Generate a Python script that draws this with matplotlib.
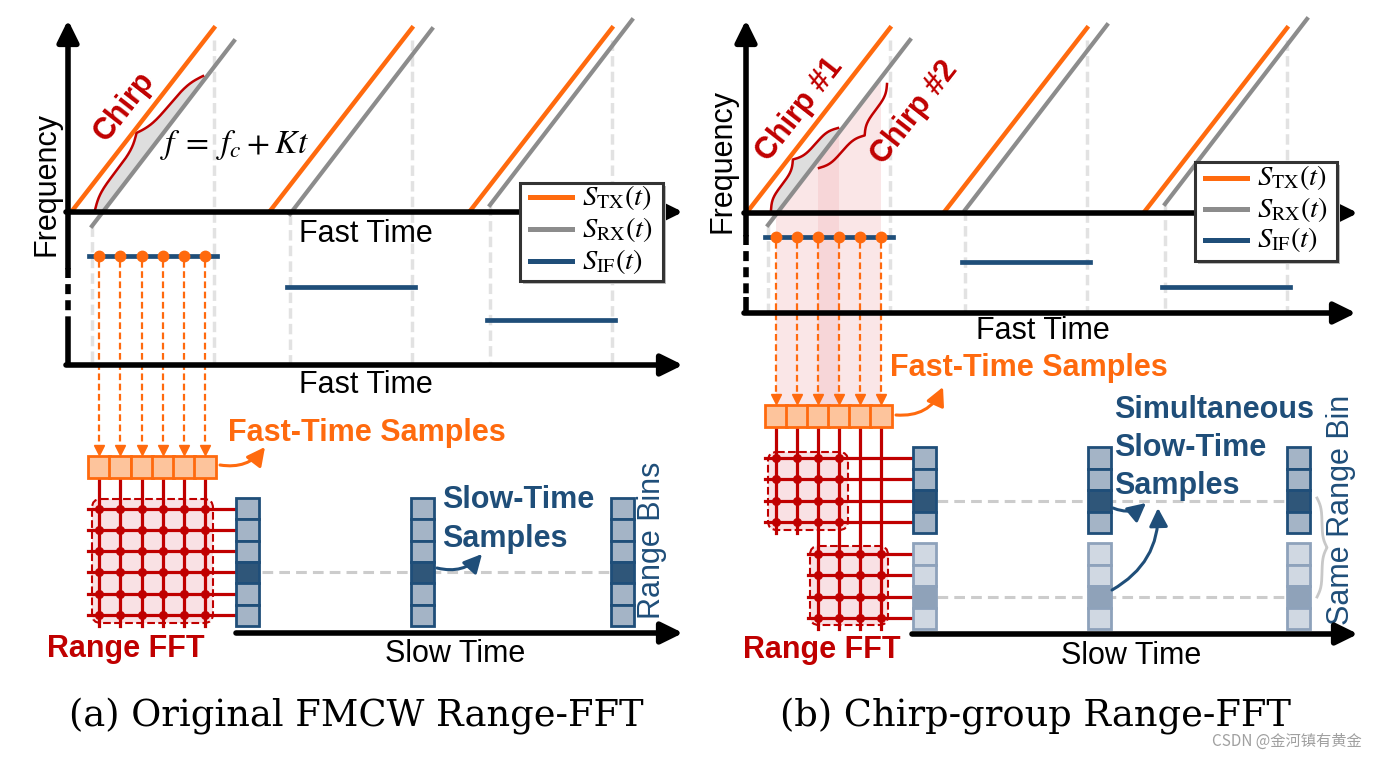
import matplotlib
matplotlib.use('Agg')

import numpy as np
import matplotlib.pyplot as plt
from matplotlib.patches import Rectangle, FancyBboxPatch, Polygon

plt.rcParams['mathtext.fontset'] = 'stix'
plt.rcParams['font.family'] = ['Liberation Sans', 'DejaVu Sans']

ORANGE = '#ff6a0e'
GRAY = '#8c8c8c'
BLUE = '#1f4e79'
RED = '#c00000'
GUIDE = '#e2e2e2'
PINK = '#f9e1e4'

# ---- panel (a): original FMCW range-FFT
a_tx_start = [72, 270, 470]
a_rx_start_y = [226, 214, 205]
a_if_level = [256, 287, 320]
a_samples = [99, 120, 142, 163, 184, 205]
a_fft_rows = [509, 530, 551, 572, 594, 615]
a_bin_x = [236, 411, 611]
a_bin_shade = ['#a4b4c6', '#a4b4c6', '#a4b4c6', '#2f5679', '#a4b4c6', '#a4b4c6']

# ---- panel (b): chirp-group range-FFT
b_tx_start = [748, 945, 1145]
b_rx_start_y = [225, 210, 204]
b_if_level = [237, 262, 287]
b_samples = [776, 797, 818, 839, 860, 881]
b_fft_rows_1 = [458, 479, 501, 522]
b_fft_rows_2 = [554, 575, 597, 618]
b_bin_x = [913, 1088, 1287]
b_bin_shade_1 = ['#a4b4c6', '#a4b4c6', '#2f5679', '#a4b4c6']
b_bin_shade_2 = ['#d0d8e2', '#d0d8e2', '#8fa2b9', '#d0d8e2']

legend_labels = [r'$S_{\mathrm{TX}}(t)$', r'$S_{\mathrm{RX}}(t)$', r'$S_{\mathrm{IF}}(t)$']
legend_colors = [ORANGE, GRAY, BLUE]

CHIRP_DX, CHIRP_DY = 142, 183
RX_LAG = 20


def axis_arrow(ax, x0, y0, x1, y1):
    ax.annotate('', xy=(x1, y1), xytext=(x0, y0), zorder=6,
                arrowprops=dict(arrowstyle='-|>,head_length=0.65,head_width=0.32',
                                lw=4, color='black', shrinkA=0, shrinkB=0,
                                mutation_scale=20))


def freq_axis(ax, x, top, gap0, gap1, bottom):
    axis_arrow(ax, x, gap0, x, top)
    ax.plot([x, x], [gap0, gap1], color='k', lw=4, dashes=(1.8, 1.1), zorder=6)
    ax.plot([x, x], [gap1, bottom], color='k', lw=4, solid_capstyle='butt', zorder=6)


def chirps(ax, starts, rx_y, if_level, axis_y, bottom_y):
    for x0, ry, iy in zip(starts, rx_y, if_level):
        ax.plot([x0, x0 + CHIRP_DX], [axis_y, axis_y - CHIRP_DY], color=ORANGE, lw=3.2, zorder=4)
        ax.plot([x0 + RX_LAG, x0 + RX_LAG + CHIRP_DX], [ry, ry - CHIRP_DY - 2],
                color=GRAY, lw=3.0, zorder=4)
        ax.plot([x0 + RX_LAG] * 2, [ry, bottom_y], color=GUIDE, lw=2.5, dashes=(3, 1.5), zorder=1)
        ax.plot([x0 + CHIRP_DX] * 2, [axis_y - CHIRP_DY + 12, bottom_y], color=GUIDE, lw=2.5,
                dashes=(3, 1.5), zorder=1)
        ax.plot([x0 + RX_LAG - 3, x0 + CHIRP_DX + 3], [iy, iy], color=BLUE, lw=3.4, zorder=4)


def brace(ax, p0, p1, width, color, side, lw=1.8, shade_to=None):
    p0, p1 = np.asarray(p0, float), np.asarray(p1, float)
    d = p1 - p0
    L = np.hypot(*d)
    u = d / L
    n = np.array([-u[1], u[0]]) * side
    xh = np.linspace(0, 0.5, 80)
    beta = 20.0
    yh = 1 / (1 + np.exp(-beta * (xh - xh[0]))) + 1 / (1 + np.exp(-beta * (xh - xh[-1])))
    xs = np.concatenate([xh, 1 - xh[-2::-1]])
    ys = np.concatenate([yh, yh[-2::-1]])
    ys = (ys - ys.min()) / (ys.max() - ys.min())
    pts = p0 + np.outer(xs * L, u) + np.outer(ys * width, n)
    if shade_to is not None:
        a, b = np.asarray(shade_to[0], float), np.asarray(shade_to[1], float)
        v = (b - a) / np.hypot(*(b - a))
        proj = lambda p: a + np.dot(p - a, v) * v
        poly = np.vstack([pts, proj(p1), proj(p0)])
        ax.add_patch(Polygon(poly, closed=True, fc='#d4d4d4', ec='none', alpha=0.75, zorder=2))
    ax.plot(pts[:, 0], pts[:, 1], color=color, lw=lw, zorder=5)


def legend_box(ax, x0, y0, w, h, rows, line_x, text_x):
    ax.add_patch(Rectangle((x0 + 3, y0 + 3), w, h, fc='#bdbdbd', ec='none', zorder=7))
    ax.add_patch(Rectangle((x0, y0), w, h, fc='white', ec='#333333', lw=2.2, zorder=8))
    for y, lab, c in zip(rows, legend_labels, legend_colors):
        ax.plot([line_x, line_x + 42], [y, y], color=c, lw=3.6, zorder=9)
        ax.text(text_x, y, lab, fontsize=20.5, va='center', ha='left', zorder=9)


def sample_arrows(ax, xs, y_dot, y_box):
    for x in xs:
        ax.plot([x, x], [y_dot + 5, y_box - 8], color=ORANGE, lw=1.6, dashes=(3, 1.6), zorder=3)
        ax.plot(x, y_box - 6, marker='v', color=ORANGE, ms=7, zorder=5)
    ax.plot(xs, [y_dot] * len(xs), 'o', color=ORANGE, ms=7.5, zorder=6)


def sample_box(ax, xs, top, h=22, w=21.3):
    for x in xs:
        ax.add_patch(Rectangle((x - w / 2, top), w, h, fc='#fdc49c', ec=ORANGE, lw=2, zorder=5))


def fft_block(ax, cols, rows, x_left, x_right, box):
    bx, by, bw, bh = box
    ax.add_patch(FancyBboxPatch((bx, by), bw, bh, boxstyle='round,pad=0,rounding_size=9',
                                fc=PINK, ec=RED, ls='--', lw=1.5, zorder=2))
    for y in rows:
        ax.plot([x_left, x_right], [y, y], color=RED, lw=2.3, zorder=3)
    for x in cols:
        ax.plot([x] * len(rows), rows, 'o', color=RED, ms=5.5, zorder=4)


def bins(ax, x, top, shades, edge, w=22.5, h=21.3):
    for i, c in enumerate(shades):
        ax.add_patch(Rectangle((x, top + i * h), w, h, fc=c, ec=edge, lw=2, zorder=5))


def curved(ax, p0, p1, color, rad):
    ax.annotate('', xy=p1, xytext=p0, zorder=6,
                arrowprops=dict(arrowstyle='-|>,head_length=0.55,head_width=0.28', color=color,
                                lw=2.2, connectionstyle='arc3,rad=%s' % rad,
                                shrinkA=0, shrinkB=0, mutation_scale=20))


fig = plt.figure(figsize=(13.78, 7.59), dpi=100)
ax = fig.add_axes([0, 0, 1, 1])
ax.set_xlim(0, 1378)
ax.set_ylim(759, 0)
ax.axis('off')

big = dict(fontsize=22)
bold = dict(fontsize=22, fontweight='bold')

# ================= panel (a) =================
chirps(ax, a_tx_start, a_rx_start_y, a_if_level, 211, 365)
freq_axis(ax, 68, 20, 268, 325, 367)
axis_arrow(ax, 66, 212, 683, 212)
axis_arrow(ax, 66, 365, 683, 365)
brace(ax, (95, 210), (203, 76), 16, RED, -1,
      shade_to=((92, 226), (235, 41)))
ax.text(124, 106, 'Chirp', rotation=52, ha='center', va='center', color=RED, **bold)
ax.text(160, 145, r'$f\;=\;f_c\:+\:Kt$', fontsize=24, ha='left', va='center')
ax.text(366, 234, 'Fast Time', ha='center', va='center', **big)
ax.text(366, 385, 'Fast Time', ha='center', va='center', **big)
ax.text(47, 184, 'Frequency', rotation=90, ha='center', va='center', **big)
legend_box(ax, 520, 183, 143, 98, [197, 229, 261], 530, 582)

sample_arrows(ax, a_samples, a_if_level[0], 456)
for x in a_samples:
    ax.plot([x, x], [478, 626], color=RED, lw=2.3, zorder=3)
fft_block(ax, a_samples, a_fft_rows, 88, 237, (92, 499, 121, 124))
sample_box(ax, a_samples, 456)
ax.text(228, 433, 'Fast-Time Samples', ha='left', va='center', color=ORANGE, **bold)
curved(ax, (220, 465), (265, 447), ORANGE, 0.3)

ax.plot([262, 611], [572, 572], color='#cccccc', lw=2.2, dashes=(3.5, 2), zorder=1)
for x in a_bin_x:
    bins(ax, x, 498, a_bin_shade, BLUE)
axis_arrow(ax, 236, 633, 683, 633)
ax.text(442, 500, 'Slow-Time', ha='left', va='center', color=BLUE, **bold)
ax.text(442, 539, 'Samples', ha='left', va='center', color=BLUE, **bold)
curved(ax, (437, 568), (482, 554), BLUE, 0.3)
ax.text(652, 540, 'Range Bins', rotation=90, ha='center', va='center', color=BLUE, **big)
ax.text(126, 649, 'Range FFT', ha='center', va='center', color=RED, **bold)
ax.text(455, 654, 'Slow Time', ha='center', va='center', **big)

# ================= panel (b) =================
x1 = np.array([b_samples[0], b_samples[3]])
x2 = np.array([b_samples[2], b_samples[5]])
rx0 = np.array([b_tx_start[0] + RX_LAG, b_rx_start_y[0]], float)
slope = (CHIRP_DY + 2) / CHIRP_DX
for xa, xb in (x1, x2):
    ya, yb = rx0[1] - slope * (xa - rx0[0]), rx0[1] - slope * (xb - rx0[0])
    ax.add_patch(Polygon([(xa, ya), (xb, yb), (xb, 405), (xa, 405)], closed=True,
                         fc='#f2b9bd', ec='none', alpha=0.35, zorder=1))

chirps(ax, b_tx_start, b_rx_start_y, b_if_level, 211, 313)
freq_axis(ax, 746, 20, 235, 297, 315)
axis_arrow(ax, 744, 213, 1358, 213)
axis_arrow(ax, 744, 313, 1356, 313)
brace(ax, (771, 210), (838, 128), 15, RED, -1,
      shade_to=((767, 225), (909, 40)))
brace(ax, (819, 168), (887, 84), 15, RED, 1)
ax.text(800, 110, 'Chirp #1', rotation=52, ha='center', va='center', color=RED, **bold)
ax.text(915, 113, 'Chirp #2', rotation=52, ha='center', va='center', color=RED, **bold)
ax.text(722, 161, 'Frequency', rotation=90, ha='center', va='center', **big)
ax.text(1043, 331, 'Fast Time', ha='center', va='center', **big)
legend_box(ax, 1195, 162, 142, 99, [178, 209, 240], 1205, 1257)

sample_arrows(ax, b_samples, b_if_level[0], 405)
for x in b_samples[:2]:
    ax.plot([x, x], [427, 533], color=RED, lw=2.3, zorder=3)
for x in b_samples[2:]:
    ax.plot([x, x], [427, 629], color=RED, lw=2.3, zorder=3)
fft_block(ax, b_samples[:4], b_fft_rows_1, 765, 914, (768, 452, 80, 78))
fft_block(ax, b_samples[2:], b_fft_rows_2, 808, 914, (810, 546, 78, 79))
sample_box(ax, b_samples, 405)
ax.text(890, 368, 'Fast-Time Samples', ha='left', va='center', color=ORANGE, **bold)
curved(ax, (896, 415), (943, 387), ORANGE, 0.35)

for y in (b_fft_rows_1[2], b_fft_rows_2[2]):
    ax.plot([937, 1287], [y, y], color='#cccccc', lw=2.2, dashes=(3.5, 2), zorder=1)
for x in b_bin_x:
    bins(ax, x, 447, b_bin_shade_1, BLUE, h=21.5)
    bins(ax, x, 543, b_bin_shade_2, '#8ea2bb', h=21.5)
axis_arrow(ax, 912, 634, 1358, 634)
brace(ax, (1317, 498), (1317, 597), 10, '#c8c8c8', -1, lw=2)
ax.text(1114, 410, 'Simultaneous', ha='left', va='center', color=BLUE, **bold)
ax.text(1114, 448, 'Slow-Time', ha='left', va='center', color=BLUE, **bold)
ax.text(1114, 486, 'Samples', ha='left', va='center', color=BLUE, **bold)
curved(ax, (1113, 508), (1146, 503), BLUE, 0.3)
curved(ax, (1112, 590), (1158, 508), BLUE, 0.3)
ax.text(1341, 510, 'Same Range Bin', rotation=90, ha='center', va='center', color=BLUE, **big)
ax.text(822, 650, 'Range FFT', ha='center', va='center', color=RED, **bold)
ax.text(1131, 656, 'Slow Time', ha='center', va='center', **big)

# captions
ax.text(356, 716, '(a) Original FMCW Range-FFT', ha='center', va='center',
        fontsize=26.5, family='DejaVu Serif')
ax.text(1035, 716, '(b) Chirp-group Range-FFT', ha='center', va='center',
        fontsize=26.5, family='DejaVu Serif')
ax.text(1362, 741, 'CSDN @金河镇有黄金', ha='right', va='center', fontsize=11,
        color='#a0a0a0', family=['Noto Sans CJK SC', 'DejaVu Sans'])

fig.savefig('out.png', dpi=100)
